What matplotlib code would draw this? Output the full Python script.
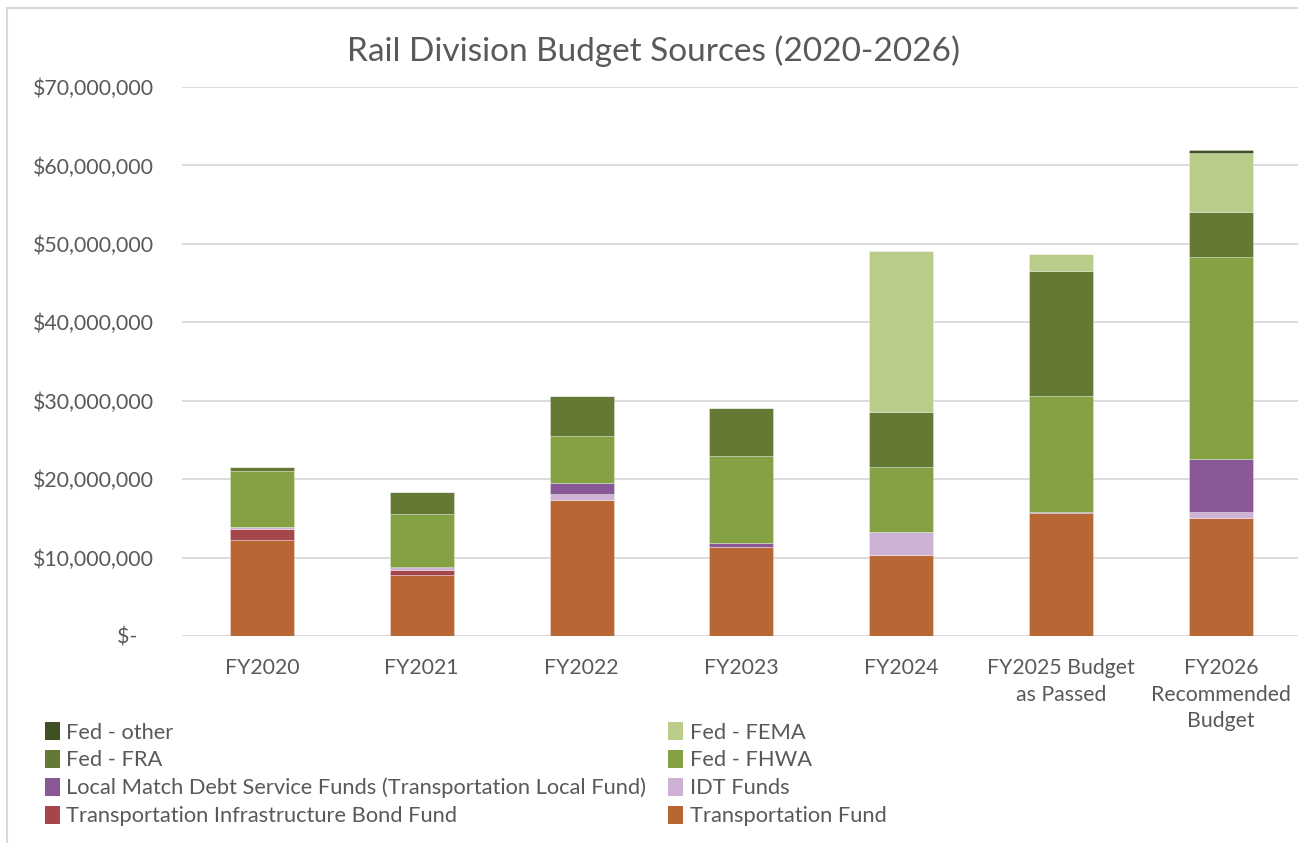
import matplotlib
matplotlib.use("Agg")
import matplotlib.pyplot as plt
import numpy as np
from matplotlib.patches import Rectangle
from matplotlib.ticker import FuncFormatter

plt.rcParams['font.family'] = ['Lato', 'DejaVu Sans']

years = ["FY2020", "FY2021", "FY2022", "FY2023", "FY2024",
         "FY2025 Budget\nas Passed", "FY2026\nRecommended\nBudget"]

# budget sources by year, in millions of dollars (stacked bottom to top)
transportation_fund = [12.2, 7.75, 17.35, 11.3, 10.3, 15.65, 15.05]
infra_bond_fund = [1.5, 0.7, 0.0, 0.0, 0.0, 0.0, 0.0]
idt_funds = [0.15, 0.25, 0.75, 0.0, 2.9, 0.0, 0.75]
local_match = [0.0, 0.15, 1.4, 0.6, 0.0, 0.2, 6.75]
fed_fhwa = [7.2, 6.7, 6.0, 11.0, 8.4, 14.75, 25.8]
fed_fra = [0.5, 2.8, 5.15, 6.2, 6.9, 15.95, 5.75]
fed_fema = [0.0, 0.0, 0.0, 0.0, 20.6, 2.2, 7.5]
fed_other = [0.0, 0.0, 0.0, 0.0, 0.0, 0.0, 0.4]

series = [
    ("Transportation Fund", transportation_fund, "#B86633"),
    ("Transportation Infrastructure Bond Fund", infra_bond_fund, "#A5474A"),
    ("IDT Funds", idt_funds, "#CDB2D5"),
    ("Local Match Debt Service Funds (Transportation Local Fund)", local_match, "#8B5897"),
    ("Fed - FHWA", fed_fhwa, "#84A244"),
    ("Fed - FRA", fed_fra, "#647A34"),
    ("Fed - FEMA", fed_fema, "#B9CC8A"),
    ("Fed - other", fed_other, "#3F5122"),
]

txt = "#595959"
grid = "#D9D9D9"

fig = plt.figure(figsize=(12.98, 8.43), dpi=100)
ax = fig.add_axes([0.1402, 0.2456, 0.862, 0.6512])

x = np.arange(len(years))
bottom = np.zeros(len(years))
bars = {}
for name, vals, color in series:
    v = np.array(vals) * 1e6
    bars[name] = ax.bar(x, v, 0.4, bottom=bottom, color=color,
                        edgecolor=(1, 1, 1, 0.35), linewidth=0.6, zorder=3)
    bottom += v

ax.set_xlim(-0.5, len(years) - 0.5)
ax.set_ylim(0, 70e6)
ax.set_yticks(np.arange(0, 70e6 + 1, 10e6))


def money(v, pos):
    if v == 0:
        return "$-   "
    return "${:,.0f}".format(v)


ax.yaxis.set_major_formatter(FuncFormatter(money))
ax.set_xticks(x)
ax.set_xticklabels(years, linespacing=1.4)
ax.tick_params(axis='both', length=0, colors=txt, labelsize=15.3)
ax.tick_params(axis='y', pad=20)
ax.tick_params(axis='x', pad=16)
ax.grid(axis='y', color=grid, linewidth=1.3, zorder=0)
for s in ax.spines.values():
    s.set_visible(False)

fig.text(0.5035, 0.939, "Rail Division Budget Sources (2020-2026)",
         ha='center', va='center', fontsize=24, color=txt)

# chart area border
fig.patches.append(Rectangle((0.0054, -0.1), 1.2, 0.1 + 0.9905,
                             transform=fig.transFigure, fill=False,
                             edgecolor=grid, linewidth=1.5))

order = ["Fed - other", "Fed - FRA",
         "Local Match Debt Service Funds (Transportation Local Fund)",
         "Transportation Infrastructure Bond Fund",
         "Fed - FEMA", "Fed - FHWA", "IDT Funds", "Transportation Fund"]
leg = fig.legend([bars[n] for n in order], order, ncol=2,
                 loc='upper left', bbox_to_anchor=(0.0347, 0.1435),
                 frameon=False, fontsize=15.75, handlelength=0.68,
                 handleheight=0.9, handletextpad=0.3, columnspacing=1.0,
                 labelspacing=0.33, borderaxespad=0, borderpad=0)
for t in leg.get_texts():
    t.set_color(txt)
for h in leg.legend_handles:
    h.set_edgecolor('none')

fig.savefig("out.png", dpi=100)
